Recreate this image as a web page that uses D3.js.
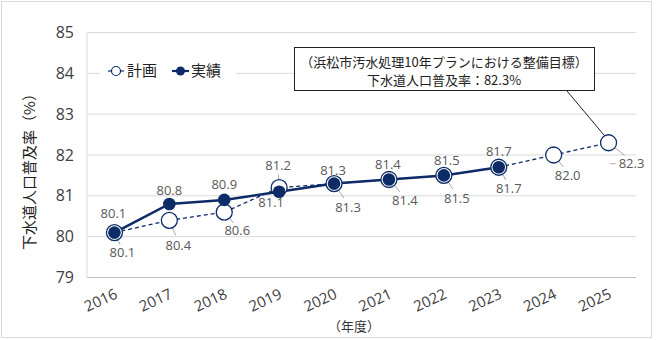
<!DOCTYPE html>
<html><head><meta charset="utf-8">
<script src="https://cdn.jsdelivr.net/npm/d3@7/dist/d3.min.js"></script>
<style>body{margin:0;background:#fff}svg{display:block}text{font-family:"Noto Sans CJK JP","Noto Sans",sans-serif}
.num{font-family:"Open Sans","Noto Sans",sans-serif}</style>
</head><body><svg id="c" width="656" height="340"></svg>
<script>
const years = ["2016","2017","2018","2019","2020","2021","2022","2023","2024","2025"];
const planValues = [80.1,80.4,80.6,81.2,81.3,81.4,81.5,81.7,82.0,82.3];
const actualValues = [80.1,80.8,80.9,81.1,81.3,81.4,81.5,81.7];
const yTicks = [79,80,81,82,83,84,85];
const seriesNames = ["計画","実績"];
const yTitle = "下水道人口普及率（%）";
const xTitle = "（年度）";
const calloutLines = ["（浜松市汚水処理10年プランにおける整備目標）","下水道人口普及率：82.3%"];
// label offsets (layout only)
const planLabelOff = [[8,20],[9,25],[13,18],[-1,-22],[14,24],[16,21],[13,23],[10,21],[14,20],[23,21]];
const actualLabelOff = [[-1,-19],[0,-14],[0,-15],[-8,11],[-1,-13],[-1,-15],[3,-15],[0,-16]];

const navy = "#0d2b66", gray = "#595959";
const svg = d3.select("#c");
svg.append("rect").attr("x",1.5).attr("y",1.5).attr("width",650).attr("height",336)
  .attr("fill","#fff").attr("stroke","#d9d9d9");

const L=87,R=636,T=32.5,B=277.5;
const x = d3.scaleBand().domain(years).range([L,R]);
const cx = d => x(d)+x.bandwidth()/2;
const y = d3.scaleLinear().domain([79,85]).range([B,T]);

// gridlines
svg.append("g").selectAll("line").data(yTicks.filter(t=>t>79)).join("line")
  .attr("x1",L).attr("x2",R).attr("y1",d=>y(d)).attr("y2",d=>y(d))
  .attr("stroke","#d9d9d9").attr("stroke-width",1);
svg.append("line").attr("x1",L).attr("x2",L).attr("y1",T).attr("y2",B).attr("stroke","#d9d9d9");
svg.append("line").attr("x1",L).attr("x2",R).attr("y1",B).attr("y2",B).attr("stroke","#bfbfbf").attr("stroke-width",1.2);

// y axis
const ya = svg.append("g").attr("transform",`translate(${L},0)`)
  .call(d3.axisLeft(y).tickValues(yTicks).tickSize(0).tickPadding(13).tickFormat(d3.format("d")));
ya.select(".domain").remove();
ya.selectAll("text").attr("class","num").attr("font-size",16).attr("fill","#404040");

// x axis
const xa = svg.append("g").attr("transform",`translate(0,${B})`)
  .call(d3.axisBottom(x).tickSize(0));
xa.select(".domain").remove();
xa.selectAll("text").attr("class","num").attr("font-size",15).attr("fill","#404040")
  .attr("text-anchor","end").attr("dy",0).attr("y",0)
  .attr("transform","translate(4,20) rotate(-25)");

// titles
svg.append("text").attr("transform",`translate(35,168) rotate(-90)`).attr("text-anchor","middle")
  .attr("font-size",15).attr("fill","#222").text(yTitle);
svg.append("text").attr("x",354).attr("y",331).attr("text-anchor","middle").attr("font-size",13).attr("fill","#333").text(xTitle);

// leader lines for plan labels
const planData = years.map((yr,i)=>({yr,v:planValues[i],o:planLabelOff[i]}));
const actData = actualValues.map((v,i)=>({yr:years[i],v,o:actualLabelOff[i]}));
svg.append("g").selectAll("line").data(planData).join("line")
  .attr("x1",d=>cx(d.yr)).attr("y1",d=>y(d.v))
  .attr("x2",d=>cx(d.yr)+d.o[0]*0.7).attr("y2",d=>y(d.v)+d.o[1]*0.6)
  .attr("stroke","#a6a6a6").attr("stroke-width",1);
svg.append("line").attr("x1",cx("2025")+2).attr("y1",y(82.3)+21).attr("x2",cx("2025")+7).attr("y2",y(82.3)+21).attr("stroke","#a6a6a6");

// lines
const line = d3.line().x(d=>cx(d.yr)).y(d=>y(d.v));
svg.append("path").datum(planData).attr("d",line).attr("fill","none").attr("stroke",navy)
  .attr("stroke-width",1.3).attr("stroke-dasharray","4,3");
svg.append("path").datum(actData).attr("d",line).attr("fill","none").attr("stroke",navy).attr("stroke-width",2.5);

// markers
svg.append("g").selectAll("circle").data(planData).join("circle")
  .attr("cx",d=>cx(d.yr)).attr("cy",d=>y(d.v)).attr("r",8)
  .attr("fill","#fff").attr("stroke",navy).attr("stroke-width",1.3);
svg.append("g").selectAll("circle").data(actData).join("circle")
  .attr("cx",d=>cx(d.yr)).attr("cy",d=>y(d.v)).attr("r",6.3).attr("fill",navy);

// labels
svg.append("g").selectAll("text").data(planData).join("text").attr("class","num")
  .attr("x",d=>cx(d.yr)+d.o[0]).attr("y",d=>y(d.v)+d.o[1]).attr("dy","0.35em")
  .attr("text-anchor","middle").attr("font-size",13).attr("fill",gray).text(d=>d.v.toFixed(1));
svg.append("g").selectAll("text").data(actData).join("text").attr("class","num")
  .attr("x",d=>cx(d.yr)+d.o[0]).attr("y",d=>y(d.v)+d.o[1]).attr("dy","0.35em")
  .attr("text-anchor","middle").attr("font-size",13).attr("fill",gray).text(d=>d.v.toFixed(1));

// legend
const lg = svg.append("g");
lg.append("rect").attr("x",100).attr("y",60).attr("width",136).attr("height",24).attr("fill","#fff");
lg.append("line").attr("x1",108).attr("x2",124).attr("y1",71).attr("y2",71).attr("stroke",navy).attr("stroke-width",1.2);
lg.append("circle").attr("cx",116).attr("cy",71).attr("r",4.5).attr("fill","#fff").attr("stroke",navy).attr("stroke-width",1.2);
lg.append("text").attr("x",127).attr("y",71).attr("dy","0.35em").attr("font-size",15).attr("fill","#222").text(seriesNames[0]);
lg.append("line").attr("x1",172).attr("x2",189).attr("y1",71).attr("y2",71).attr("stroke",navy).attr("stroke-width",2.2);
lg.append("circle").attr("cx",180.5).attr("cy",71).attr("r",4.5).attr("fill",navy);
lg.append("text").attr("x",191).attr("y",71).attr("dy","0.35em").attr("font-size",15).attr("fill","#222").text(seriesNames[1]);

// callout
svg.append("line").attr("x1",567).attr("y1",91).attr("x2",cx("2025")-4).attr("y2",y(82.3)-7).attr("stroke","#222").attr("stroke-width",1);
svg.append("rect").attr("x",294.5).attr("y",47.5).attr("width",300).attr("height",43).attr("fill","#fff").attr("stroke","#222");
svg.append("g").selectAll("text").data(calloutLines).join("text")
  .attr("x",444).attr("y",(d,i)=>62+i*18).attr("dy","0.35em").attr("text-anchor","middle")
  .attr("font-size",13).attr("fill","#222").text(d=>d);
</script></body></html>
